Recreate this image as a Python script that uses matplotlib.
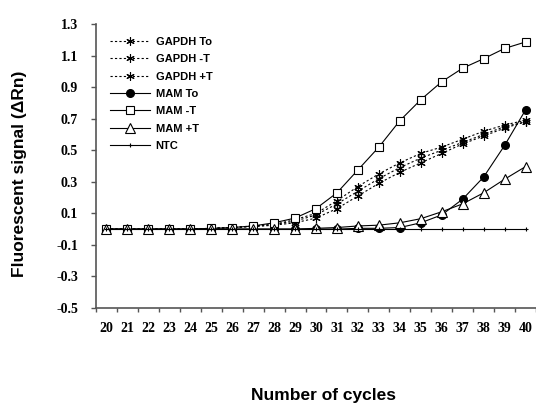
import matplotlib
matplotlib.use('Agg')
import matplotlib.pyplot as plt
from matplotlib.ticker import FixedLocator

cycles = list(range(20, 41))

gapdh_to = [0, 0, 0, 0, 0, 0.005, 0.01, 0.02, 0.03, 0.06, 0.10, 0.18, 0.27, 0.35, 0.42, 0.48, 0.52, 0.57, 0.62, 0.66, 0.69]
gapdh_minus = [0, 0, 0, 0, 0, 0.005, 0.01, 0.02, 0.03, 0.05, 0.09, 0.16, 0.24, 0.32, 0.39, 0.45, 0.50, 0.55, 0.60, 0.65, 0.68]
gapdh_plus = [0, 0, 0, 0, 0, 0.005, 0.01, 0.015, 0.025, 0.04, 0.07, 0.13, 0.21, 0.29, 0.36, 0.42, 0.48, 0.54, 0.59, 0.64, 0.68]
mam_to = [0, 0, 0, 0, 0, 0, 0, 0, 0, 0, 0, 0, 0.005, 0.005, 0.01, 0.04, 0.09, 0.19, 0.33, 0.53, 0.755]
mam_minus = [0, 0, 0, 0, 0, 0.005, 0.01, 0.02, 0.04, 0.07, 0.13, 0.23, 0.375, 0.52, 0.687, 0.82, 0.934, 1.02, 1.08, 1.145, 1.186]
mam_plus = [0, 0, 0, 0, 0, 0, 0, 0, 0, 0, 0.005, 0.01, 0.02, 0.025, 0.04, 0.066, 0.11, 0.16, 0.23, 0.316, 0.396]
ntc = [0] * 21

y_ticks = [-0.5, -0.3, -0.1, 0.1, 0.3, 0.5, 0.7, 0.9, 1.1, 1.3]

fig = plt.figure(figsize=(5.36, 4.05), dpi=100)
ax = fig.add_axes([96 / 536, 1 - 308 / 405, 1 - 96 / 536, 284 / 405])

x = list(range(len(cycles)))
lw = 0.8
dot = (0, (2, 2))
ax.plot(x, gapdh_to, color='black', lw=lw, ls=dot, marker=(6, 2, 0), ms=6, mew=0.8, label='GAPDH To')
ax.plot(x, gapdh_minus, color='black', lw=lw, ls=dot, marker=(6, 2, 0), ms=6, mew=0.8, label='GAPDH -T')
ax.plot(x, gapdh_plus, color='black', lw=lw, ls=dot, marker=(6, 2, 0), ms=6, mew=0.8, label='GAPDH +T')
ax.plot(x, mam_to, color='black', lw=lw, marker='o', ms=5.5, mfc='black', label='MAM To')
ax.plot(x, mam_minus, color='black', lw=lw, marker='s', ms=6, mfc='white', mew=0.8, label='MAM -T')
ax.plot(x, mam_plus, color='black', lw=lw, marker='^', ms=7, mfc='white', mew=0.8, label='MAM +T')
ax.plot(x, ntc, color='black', lw=lw, marker='+', ms=3.5, mew=0.8, label='NTC')

ax.set_xlim(-0.5, len(cycles) - 0.5)
ax.set_ylim(-0.5, 1.3)
ax.set_yticks(y_ticks)
ax.set_yticklabels(['%.1f' % v for v in y_ticks])
ax.set_xticks(x)
ax.set_xticklabels([str(c) for c in cycles])
ax.xaxis.set_minor_locator(FixedLocator([i - 0.5 for i in range(len(cycles) + 1)]))

for s in ['top', 'right']:
    ax.spines[s].set_visible(False)
for s in ['left', 'bottom']:
    ax.spines[s].set_color('#555555')
    ax.spines[s].set_linewidth(1.2)

ax.tick_params(axis='x', which='major', length=0, pad=10)
ax.tick_params(axis='x', which='minor', length=3, width=1, color='#555555', direction='out')
ax.tick_params(axis='y', length=3.6, width=1, color='#555555', direction='out', pad=9.4)
for t in ax.get_xticklabels() + ax.get_yticklabels():
    t.set_fontfamily('Liberation Serif')
    t.set_fontweight('bold')
    t.set_fontsize(10)

ax.set_ylabel('Fluorescent signal (\u0394Rn)', fontfamily='Liberation Sans', fontweight='bold', fontsize=12.5)
ax.yaxis.set_label_coords(-0.157, 0.472)
ax.set_xlabel('Number of cycles', fontfamily='Liberation Sans', fontweight='bold', fontsize=12.5)
ax.xaxis.set_label_coords(0.517, -0.28)

leg = ax.legend(loc='upper left', bbox_to_anchor=(110 / 536, 1 - 37 / 405), bbox_transform=fig.transFigure,
                frameon=False, borderpad=0, borderaxespad=0, handlelength=3.6, handletextpad=0.5,
                labelspacing=0.66, prop={'family': 'Liberation Sans', 'weight': 'bold', 'size': 8})

fig.savefig('out.png', dpi=100)
